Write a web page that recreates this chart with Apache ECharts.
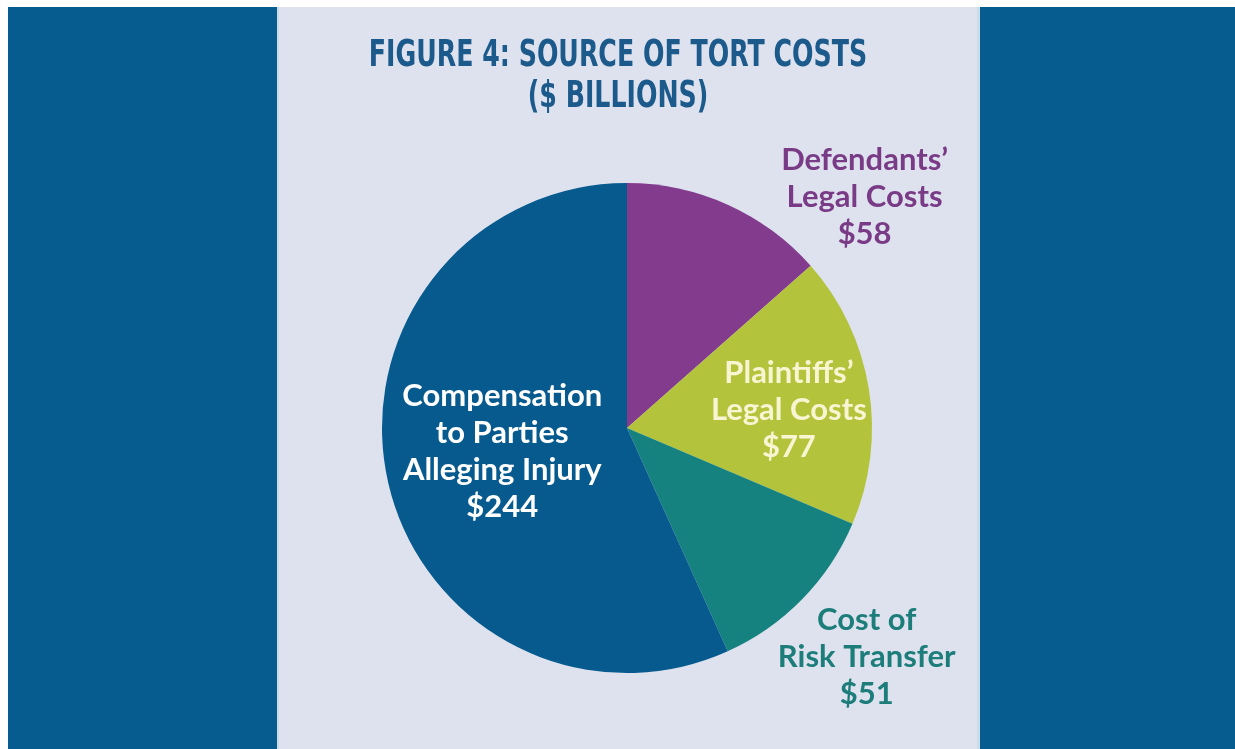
<!DOCTYPE html>
<html>
<head>
<meta charset="utf-8">
<script src="https://cdn.jsdelivr.net/npm/echarts@6/dist/echarts.min.js"></script>
<style>
  html, body { margin: 0; padding: 0; background: #fff; }
  #chart { width: 1235px; height: 749px; }
</style>
</head>
<body>
<div id="chart"></div>
<script>
// data
const categories = [
  "Defendants’\nLegal Costs",
  "Plaintiffs’\nLegal Costs",
  "Cost of\nRisk Transfer",
  "Compensation\nto Parties\nAlleging Injury"
];
const values = [58, 77, 51, 244];
const titleLines = ['FIGURE 4: SOURCE OF TORT COSTS', '($ BILLIONS)'];

// styles per slice (kept apart from the data)
const sliceColors = ['#833b8e', '#b3c43c', '#16827f', '#065a8e'];
const labelColors = ['#7a3b86', '#f7f5d2', '#1d7d7a', '#ffffff'];
const labelOffsets = [[186, -117], [38, 2], [150, 141], [-2, -3]];

const chart = echarts.init(document.getElementById('chart'));

const option = {
  backgroundColor: '#ffffff',
  animation: false,
  graphic: [
    { type: 'rect', z: -10, shape: { x: 8, y: 7, width: 1227, height: 742 }, style: { fill: '#065b8f' } },
    { type: 'rect', z: -9, shape: { x: 277, y: 7, width: 703, height: 742 }, style: { fill: '#dde2ee' } },
    { type: 'rect', z: -9, shape: { x: 277, y: 7, width: 2, height: 742 }, style: { fill: '#c9dde9' } },
    { type: 'rect', z: -9, shape: { x: 977, y: 7, width: 3, height: 742 }, style: { fill: '#c9dde9' } },
    {
      // 标题 (condensed look via horizontal scaling)
      type: 'text',
      x: 618,
      y: 36,
      scaleX: 0.665,
      z: 10,
      style: {
        text: titleLines.join('\n'),
        align: 'center',
        verticalAlign: 'top',
        fontFamily: '"DejaVu Sans", sans-serif',
        fontWeight: 'bold',
        fontSize: 38,
        lineHeight: 41,
        fill: '#1c5a8c'
      }
    }
  ],
  series: [
    {
      type: 'pie',
      center: [627, 428],
      radius: [0, 245],
      startAngle: 90,
      clockwise: true,
      silent: true,
      labelLine: { show: false },
      data: values.map((v, i) => ({
        name: categories[i],
        value: v,
        itemStyle: { color: sliceColors[i] },
        label: {
          show: true,
          position: 'inside',
          offset: labelOffsets[i],
          formatter: '{b}\n${c}',
          color: labelColors[i],
          fontFamily: 'Lato, "Open Sans", sans-serif',
          fontWeight: 'bold',
          fontSize: 31,
          lineHeight: 37,
          align: 'center'
        }
      }))
    }
  ]
};

chart.setOption(option);
window.addEventListener('resize', () => chart.resize());
</script>
</body>
</html>
